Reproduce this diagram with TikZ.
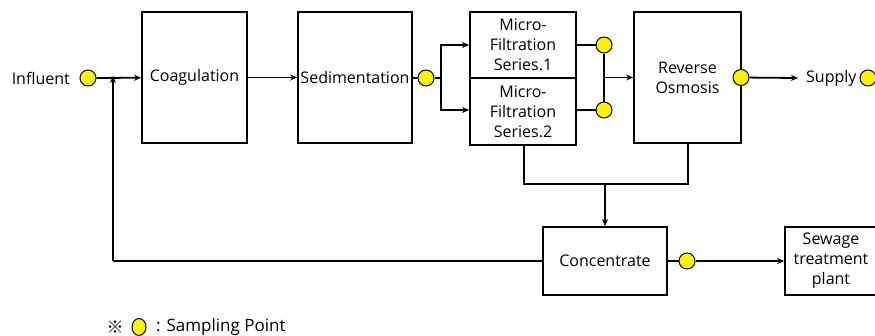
\documentclass[tikz,border=0pt]{standalone}
\usepackage{fontspec}
\setmainfont{Open Sans}
\newfontfamily\cjkfont{Noto Sans CJK SC}
\usetikzlibrary{arrows.meta,shapes.geometric}
\begin{document}
\begin{tikzpicture}[x=1pt,y=-1pt,
  every node/.style={font=\fontsize{16}{20}\selectfont, inner sep=0pt, align=center},
  box/.style={draw, line width=1.8pt, minimum width=#1},
  sp/.style={circle, draw, fill=yellow, line width=1pt, minimum size=16pt, inner sep=0pt},
  ln/.style={line width=1.8pt},
  arr/.style={line width=1.8pt, -{Stealth[length=7pt,width=6pt]}}]
\useasboundingbox (0,0) rectangle (875,335);
% boxes
\node[box=105pt, minimum height=131pt] (coag) at (194.5,77.5) {Coagulation};
\node[box=114pt, minimum height=131pt] (sed) at (355,77.5) {Sedimentation};
\node[box=106pt, minimum height=66pt] (mf1) at (523,45) {Micro-\\Filtration\\Series.1};
\node[box=106pt, minimum height=67pt] (mf2) at (523,111.5) {Micro-\\Filtration\\Series.2};
\node[box=107pt, minimum height=131pt] (ro) at (687.5,77.5) {Reverse\\Osmosis};
\node[box=124pt, minimum height=68pt] (conc) at (605,261) {Concentrate};
\node[box=92pt, minimum height=68pt] (sew) at (831,261) {Sewage\\treatment\\plant};
% texts
\node[anchor=east] (infl) at (70,78) {Influent};
\node[anchor=west] (sup) at (806,78) {Supply};
% sampling points
\node[sp] (c0) at (88,78) {};
\node[sp] (c1) at (426,78) {};
\node[sp] (c2) at (604,45) {};
\node[sp] (c3) at (604,110) {};
\node[sp] (c4) at (741,77.5) {};
\node[sp] (c5) at (868,78) {};
\node[sp] (c6) at (687,261) {};
% coordinates
\coordinate (fb) at (113,78);
\coordinate (br) at (441,78);
\coordinate (j1) at (524,184);
\coordinate (j2) at (688,184);
\coordinate (j3) at (605,184);
\coordinate (j4) at (604,77.5);
\coordinate (fbb) at (113,261);
% connectors
\draw[arr] (c0) -- (coag);
\draw[arr] (coag) -- (sed);
\draw[ln] (sed) -- (c1);
\draw[ln] (c1) -- (br);
\draw[arr] (br) |- (mf1.west);
\draw[arr] (br) |- (mf2.west |- c3);
\draw[ln] (mf1.east |- c2) -- (c2);
\draw[ln] (mf2.east |- c3) -- (c3);
\draw[ln] (c2) -- (c3);
\draw[arr] (j4) -- (ro.west |- j4);
\draw[arr] (c4) -- ([xshift=-8pt]sup.west);
\draw[ln] (mf2.south -| j1) -- (j1) -- (j2) -- (ro.south -| j2);
\draw[arr] (j3) -- (conc.north -| j3);
\draw[ln] (conc) -- (c6);
\draw[arr] (c6) -- (sew);
\draw[ln] (conc.west) -- (fbb);
\draw[arr] (fbb) -- ([yshift=2pt]fb);
% legend
\node (lm) at (115,327) {\fontsize{17}{20}\selectfont\cjkfont ※};
\node[ellipse, draw, fill=yellow, line width=1pt, inner sep=0pt, minimum width=14pt, minimum height=17pt] (lc) at (139,327) {};
\node[anchor=west] (lt) at (156,327) {\fontsize{17}{20}\selectfont : Sampling Point};
\end{tikzpicture}
\end{document}
